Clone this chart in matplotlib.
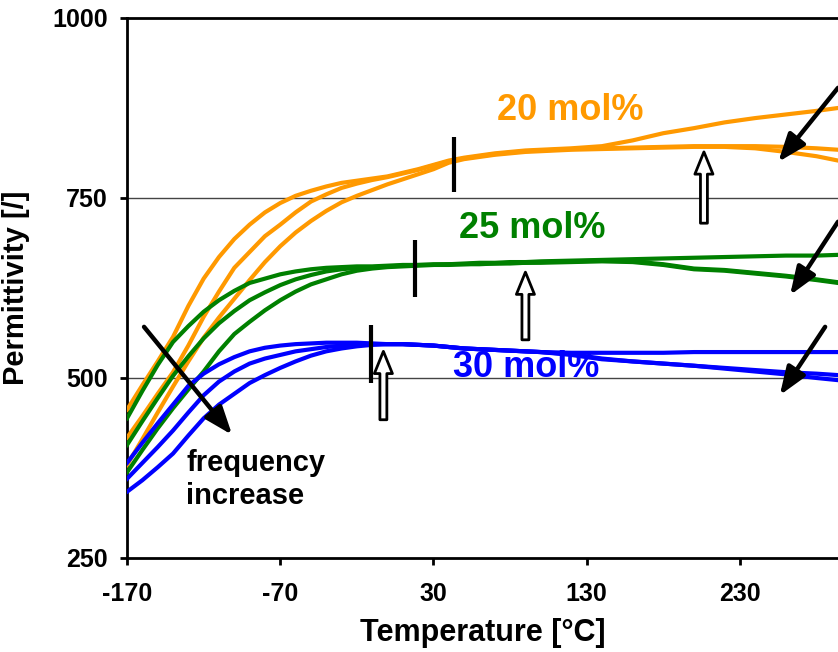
import matplotlib
matplotlib.use('Agg')
import matplotlib.pyplot as plt

plt.rcParams['font.family'] = ['Liberation Sans', 'DejaVu Sans']
plt.rcParams['font.weight'] = 'bold'
plt.rcParams['axes.labelweight'] = 'bold'
plt.rcParams['axes.unicode_minus'] = False

# temperature grid [°C]
T = [-170, -160, -150, -140, -130, -120, -110, -100, -90, -80, -70, -60, -50,
     -40, -30, -20, -10, 0, 10, 20, 30, 40, 50, 60, 70, 80, 90, 100,
     120, 140, 160, 180, 200, 220, 240, 260, 280, 294]

# 20 mol% (three frequencies)
or_1 = [456, 490, 523, 557, 600, 638, 668, 693, 713, 730, 743, 753, 760,
        766, 771, 774, 777, 780, 785, 790, 796, 802, 806, 809, 812, 814, 816, 817,
        819, 822, 830, 840, 847, 855, 861, 866, 871, 875]
or_2 = [417, 447, 478, 508, 545, 585, 620, 653, 675, 697, 713, 730, 745,
        755, 764, 770, 775, 779, 784, 789, 795, 801, 805, 808, 811, 813, 815, 816,
        818, 819, 820, 821, 822, 822, 822, 821, 819, 817]
or_3 = [379, 415, 452, 488, 523, 556, 584, 610, 636, 661, 683, 702, 718,
        732, 744, 753, 761, 769, 776, 783, 790, 799, 804, 807, 810, 812, 814, 815,
        817, 818, 819, 820, 821, 821, 819, 814, 808, 802]

# 25 mol%
gr_1 = [444, 482, 518, 550, 572, 592, 608, 621, 632, 638, 644, 648, 651,
        653, 654, 655, 655, 656, 657, 657, 658, 658, 659, 660, 660, 661, 661, 662,
        663, 664, 665, 666, 667, 668, 669, 670, 670, 671]
gr_2 = [407, 440, 472, 503, 530, 555, 576, 593, 608, 619, 629, 637, 643,
        648, 651, 653, 654, 655, 656, 657, 657, 658, 658, 659, 659, 660, 660, 661,
        662, 663, 662, 658, 652, 650, 646, 642, 637, 633]
gr_3 = [369, 400, 430, 458, 484, 509, 537, 561, 578, 594, 608, 620, 630,
        637, 644, 649, 652, 654, 655, 656, 657, 657, 658, 658, 659, 659, 660, 660,
        661, 662, 661, 657, 651, 649, 645, 641, 636, 632]

# 30 mol%
bl_1 = [382, 410, 437, 463, 489, 506, 519, 529, 537, 542, 545, 547, 548,
        549, 549, 549, 548, 547, 547, 546, 545, 543, 541, 540, 539, 538, 537, 536,
        535, 535, 535, 535, 536, 536, 536, 536, 536, 536]
bl_2 = [360, 382, 404, 427, 452, 476, 495, 509, 520, 527, 532, 537, 540,
        543, 545, 546, 547, 547, 547, 546, 545, 543, 541, 540, 539, 538, 537, 536,
        533, 527, 523, 520, 517, 514, 511, 508, 506, 504]
bl_3 = [342, 358, 376, 395, 420, 444, 463, 478, 493, 504, 514, 523, 531,
        537, 541, 544, 546, 547, 547, 546, 545, 543, 541, 540, 539, 538, 537, 536,
        532, 526, 523, 520, 517, 513, 509, 505, 500, 497]

ORANGE = '#ff9900'
GREEN = '#008000'
BLUE = '#0000ff'

# transition markers (T, y_low, y_high)
bars = [(43.7, 758, 835), (18.2, 612, 692), (-10.5, 493, 574)]
# open arrows (T, tail y, tip y)
open_arrows = [(206.5, 715, 814), (90, 553, 647), (-2.7, 442, 537)]
# black arrows (tail, tip)
black_arrows = [((294, 903), (255, 800)), ((294, 717), (262.7, 615)),
                ((285.6, 571), (256, 476)), ((-158.9, 571), (-101.4, 421))]

fig = plt.figure(figsize=(8.38, 6.52), dpi=100)
ax = fig.add_axes([0.1516, 0.1442, 0.8484, 0.8282])

for y in (500, 750):
    ax.axhline(y, color='#444444', lw=1, zorder=1)

for ser, c in [(or_1, ORANGE), (or_2, ORANGE), (or_3, ORANGE),
               (gr_1, GREEN), (gr_2, GREEN), (gr_3, GREEN),
               (bl_1, BLUE), (bl_2, BLUE), (bl_3, BLUE)]:
    ax.plot(T, ser, color=c, lw=3, zorder=3)

for x, y0, y1 in bars:
    ax.plot([x, x], [y0, y1], color='black', lw=3, zorder=4, solid_capstyle='butt')

for x, y0, y1 in open_arrows:
    ax.annotate('', xy=(x, y1), xytext=(x, y0),
                arrowprops=dict(arrowstyle='simple,head_length=1.6,head_width=1.3,tail_width=0.5',
                                mutation_scale=10, fc='white', ec='black', lw=2,
                                shrinkA=0, shrinkB=0), zorder=5)

for (x0, y0), (x1, y1) in black_arrows:
    ax.annotate('', xy=(x1, y1), xytext=(x0, y0),
                arrowprops=dict(arrowstyle='-|>,head_length=0.85,head_width=0.32',
                                mutation_scale=20, color='black', lw=3.2,
                                shrinkA=0, shrinkB=0), zorder=5)

ax.text(119.5, 872, '20 mol%', color=ORANGE, fontsize=26, ha='center', va='center')
ax.text(94.7, 708, '25 mol%', color=GREEN, fontsize=26, ha='center', va='center')
ax.text(90.8, 514, '30 mol%', color=BLUE, fontsize=26, ha='center', va='center', zorder=2)
ax.text(-131.4, 359, 'frequency\nincrease', color='black', fontsize=21,
        ha='left', va='center', linespacing=1.25)

ax.set_xlim(-170, 294)
ax.set_ylim(250, 1000)
ax.set_xticks([-170, -70, 30, 130, 230])
ax.set_yticks([250, 500, 750, 1000])
ax.tick_params(axis='both', direction='out', length=5, width=2, labelsize=18)
ax.tick_params(axis='x', pad=12)
ax.tick_params(axis='y', pad=9)

for s in ('left', 'bottom', 'top'):
    ax.spines[s].set_linewidth(2)
ax.spines['right'].set_visible(False)

ax.set_xlabel('Temperature [°C]', fontsize=22, labelpad=9)
ax.set_ylabel('Permittivity [/]', fontsize=21, labelpad=16)

fig.savefig('out.png', dpi=100)
